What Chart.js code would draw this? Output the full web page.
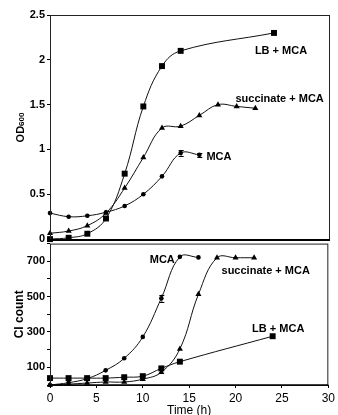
<!DOCTYPE html>
<html><head><meta charset="utf-8">
<script src="https://cdn.jsdelivr.net/npm/chart.js@4.4.1/dist/chart.umd.min.js"></script>
<style>
html,body{margin:0;padding:0;background:#fff;}
#wrap{position:relative;width:338px;height:415px;overflow:hidden;background:#fff;}
#wrap canvas{position:absolute;left:0;}
</style></head><body>
<div id="wrap">
<canvas id="topc" width="338" height="250" style="top:0px"></canvas>
<canvas id="botc" width="338" height="180" style="top:235px"></canvas>
</div>
<script>
// ---- Data: top panel (OD600) ----
const odTimeLB   = [0, 2, 4, 6, 8, 10, 12, 14, 24];
const odLB       = [0.00, 0.015, 0.06, 0.23, 0.73, 1.48, 1.93, 2.10, 2.30];
const odTimeSucc = [0, 2, 4, 6, 8, 10, 12, 14, 16, 18, 20, 22];
const odSucc     = [0.065, 0.09, 0.15, 0.29, 0.57, 0.91, 1.24, 1.26, 1.38, 1.50, 1.48, 1.46];
const odTimeMCA  = [0, 2, 4, 6, 8, 10, 12, 14, 16];
const odMCA      = [0.29, 0.25, 0.26, 0.30, 0.37, 0.50, 0.70, 0.96, 0.94];
const odMCAerr   = [0, 0, 0, 0, 0, 0, 0, 0.03, 0.02];
const odTicks    = [0, 0.5, 1, 1.5, 2, 2.5];

// ---- Data: bottom panel (CI count) ----
const ciTimeLB   = [0, 2, 4, 6, 8, 10, 12, 14, 24];
const ciLB       = [39, 39, 39, 39, 44, 50, 94, 132, 276];
const ciTimeSucc = [0, 2, 4, 6, 8, 10, 12, 14, 16, 18, 20, 22];
const ciSucc     = [0, 5, 11, 17, 17, 33, 72, 204, 513, 720, 720, 720];
const ciTimeMCA  = [0, 2, 4, 6, 8, 10, 12, 14, 16];
const ciMCA      = [0, 13, 36, 83, 151, 272, 491, 725, 722];
const ciMCAerr   = [0, 0, 0, 0, 0, 0, 20, 0, 0];
const ciTickLabels = [100, 300, 500, 700];
const timeTicks  = [0, 5, 10, 15, 20, 25, 30];

const seriesNames = ['LB + MCA', 'succinate + MCA', 'MCA'];

// text annotations anchored in data coordinates
const odNotes = [
  {text: seriesNames[0], t: 24.75, v: 2.10},
  {text: seriesNames[1], t: 24.6,  v: 1.56},
  {text: seriesNames[2], t: 18.1,  v: 0.915}
];
const ciNotes = [
  {text: seriesNames[2], t: 12.1,  v: 706},
  {text: seriesNames[1], t: 23.25, v: 645},
  {text: seriesNames[0], t: 24.6,  v: 315}
];

const FONT = "'Liberation Sans', Arial, Helvetica, sans-serif";
const pts = (ts, vs) => ts.map((t, i) => ({x: t, y: vs[i]}));

function ds(label, ts, vs, style, radius, err) {
  return {
    label, data: pts(ts, vs), err: err || null,
    borderColor: '#111', borderWidth: 1,
    pointStyle: style, pointRadius: radius, pointHoverRadius: radius,
    pointBackgroundColor: '#000', pointBorderColor: '#000', pointBorderWidth: 0,
    tension: 0.4, clip: false, fill: false
  };
}

const decoPlugin = {
  id: 'deco',
  afterDatasetsDraw(chart, args, opts) {
    const ctx = chart.ctx, a = chart.chartArea;
    const xs = chart.scales.x, ys = chart.scales.y;
    ctx.save();
    // error bars
    chart.data.datasets.forEach(d => {
      if (!d.err) return;
      d.data.forEach((p, i) => {
        const e = d.err[i];
        if (!e) return;
        const px = xs.getPixelForValue(p.x);
        const y1 = ys.getPixelForValue(p.y - e), y2 = ys.getPixelForValue(p.y + e);
        ctx.strokeStyle = '#000'; ctx.lineWidth = 1;
        ctx.beginPath();
        ctx.moveTo(px + 0.5, y1); ctx.lineTo(px + 0.5, y2);
        ctx.moveTo(px - 2, Math.round(y1) + 0.5); ctx.lineTo(px + 3, Math.round(y1) + 0.5);
        ctx.moveTo(px - 2, Math.round(y2) + 0.5); ctx.lineTo(px + 3, Math.round(y2) + 0.5);
        ctx.stroke();
      });
    });
    // frame
    ctx.strokeStyle = '#222'; ctx.lineWidth = 1;
    ctx.strokeRect(a.left + 0.5, a.top + 0.5, a.right - a.left - 1, a.bottom - a.top);
    if (opts.bottomWidth) {
      ctx.lineWidth = opts.bottomWidth; ctx.strokeStyle = '#000';
      ctx.beginPath(); ctx.moveTo(a.left, a.bottom); ctx.lineTo(a.right, a.bottom); ctx.stroke();
    }
    // notes
    ctx.fillStyle = '#000';
    ctx.font = 'bold 11px ' + FONT;
    ctx.textAlign = 'center'; ctx.textBaseline = 'middle';
    (opts.notes || []).forEach(n => {
      ctx.fillText(n.text, xs.getPixelForValue(n.t), ys.getPixelForValue(n.v));
    });
    // y title
    if (opts.title) {
      const cy = (a.top + a.bottom) / 2;
      ctx.translate(opts.titleX, cy);
      ctx.rotate(-Math.PI / 2);
      ctx.textBaseline = 'middle'; ctx.textAlign = 'left';
      const parts = opts.title;
      let total = 0;
      parts.forEach(p => { ctx.font = 'bold ' + p.size + 'px ' + FONT; total += ctx.measureText(p.text).width; });
      let x = -total / 2;
      parts.forEach(p => {
        ctx.font = 'bold ' + p.size + 'px ' + FONT;
        ctx.fillText(p.text, x, p.dy || 0);
        x += ctx.measureText(p.text).width;
      });
    }
    ctx.restore();
  }
};

const yFit = s => { s.width = 50; };

new Chart(document.getElementById('topc'), {
  type: 'line',
  data: { datasets: [
    ds(seriesNames[0], odTimeLB, odLB, 'rect', 4.2),
    ds(seriesNames[1], odTimeSucc, odSucc, 'triangle', 3.5),
    ds(seriesNames[2], odTimeMCA, odMCA, 'circle', 2.3, odMCAerr)
  ]},
  options: {
    responsive: false, animation: false, devicePixelRatio: 1,
    layout: { padding: { top: 15, bottom: 10, left: 0, right: 8 } },
    plugins: { legend: { display: false }, tooltip: { enabled: false },
      deco: { notes: odNotes, bottomWidth: 2, titleX: 21,
              title: [{text: 'OD', size: 11}, {text: '600', size: 8, dy: 1}] } },
    scales: {
      x: { type: 'linear', min: 0, max: 30, display: false },
      y: { type: 'linear', min: -0.01, max: 2.5, afterFit: yFit,
           afterBuildTicks: s => { s.ticks = odTicks.map(v => ({value: v})); },
           border: { display: false },
           grid: { drawOnChartArea: false, drawTicks: true, tickLength: 3, color: '#000' },
           ticks: { color: '#000', padding: 2, font: { family: FONT, size: 11, weight: 'bold' },
                    callback: v => String(v) } }
    }
  },
  plugins: [decoPlugin]
});

new Chart(document.getElementById('botc'), {
  type: 'line',
  data: { datasets: [
    ds(seriesNames[0], ciTimeLB, ciLB, 'rect', 4.2),
    ds(seriesNames[1], ciTimeSucc, ciSucc, 'triangle', 3.5),
    ds(seriesNames[2], ciTimeMCA, ciMCA, 'circle', 2.3, ciMCAerr)
  ]},
  options: {
    responsive: false, animation: false, devicePixelRatio: 1,
    layout: { padding: { top: 5, bottom: 0, left: 0, right: 8 } },
    plugins: { legend: { display: false }, tooltip: { enabled: false },
      deco: { notes: ciNotes, bottomWidth: 1.5, titleX: 20,
              title: [{text: 'CI count', size: 12}] } },
    scales: {
      x: { type: 'linear', min: 0, max: 30, afterFit: s => { s.height = 30; },
           afterBuildTicks: s => { s.ticks = timeTicks.map(v => ({value: v})); },
           border: { display: false },
           grid: { drawOnChartArea: false, drawTicks: true, tickLength: 3, color: '#000' },
           ticks: { color: '#000', padding: 3, maxRotation: 0, font: { family: FONT, size: 12 } },
           title: { display: true, text: 'Time (h)', color: '#000', padding: { top: 0, bottom: -3 },
                    font: { family: FONT, size: 12 } } },
      y: { type: 'linear', min: 0, max: 800, afterFit: yFit,
           afterBuildTicks: s => { const t = []; for (let v = 0; v <= 800; v += 100) t.push({value: v}); s.ticks = t; },
           border: { display: false },
           grid: { drawOnChartArea: false, drawTicks: true, tickLength: 3, color: '#000' },
           ticks: { color: '#000', padding: 2, autoSkip: false, font: { family: FONT, size: 11, weight: 'bold' },
                    callback: v => ciTickLabels.includes(v) ? String(v) : '' } }
    }
  },
  plugins: [decoPlugin]
});
</script>
</body></html>
